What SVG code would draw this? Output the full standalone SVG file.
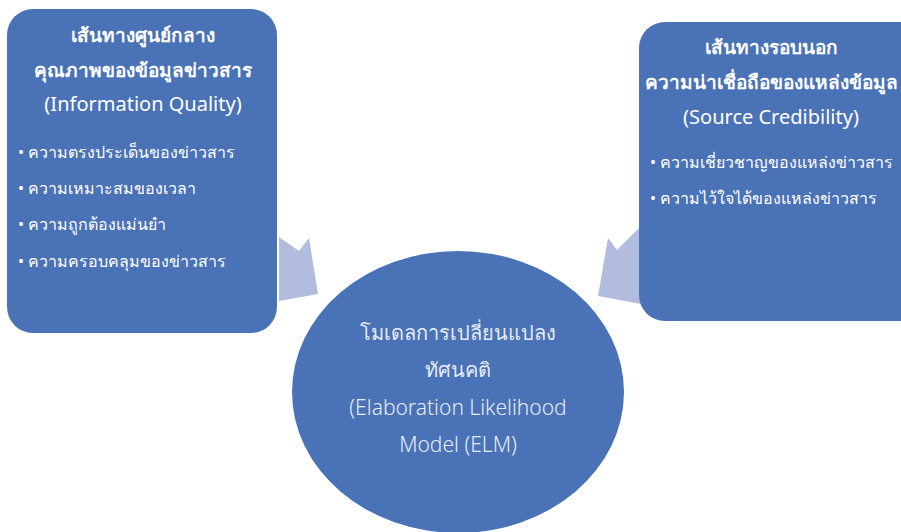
<svg xmlns="http://www.w3.org/2000/svg" width="901" height="532" viewBox="0 0 901 532">
<style>
.box{fill:#4a72b6}
.arrow{fill:#b2bcdf}
.t{font-family:"Noto Sans","Liberation Sans",sans-serif;fill:#ffffff;text-anchor:middle}
.h{font-size:19px;font-weight:bold}
.e{font-size:20px}
.b{font-family:"Noto Sans","Liberation Sans",sans-serif;fill:#ffffff;font-size:16px}
.c{font-family:"Noto Sans","Liberation Sans",sans-serif;fill:#e6ebf5;font-size:20px;text-anchor:middle;font-weight:300}
.ce{font-size:21px}
</style>
<rect width="901" height="532" fill="#ffffff"/>
<g id="connectors">
<polygon class="arrow" points="279,237 299,251 309,238 318,294 279,301"/>
<polygon class="arrow" points="608,238 617,250 641,226 641,304 598,296"/>
</g>
<g id="central-route">
<rect class="box" x="7" y="9" width="270" height="324" rx="26" ry="26"/>
<text class="t h" x="143" y="42">เส้นทางศูนย์กลาง</text>
<text class="t h" x="143" y="77">คุณภาพของข้อมูลข่าวสาร</text>
<text class="t e" x="143" y="111">(Information Quality)</text>
<text class="b" x="18" y="158">• ความตรงประเด็นของข่าวสาร</text>
<text class="b" x="18" y="194">• ความเหมาะสมของเวลา</text>
<text class="b" x="18" y="230">• ความถูกต้องแม่นยำ</text>
<text class="b" x="18" y="267">• ความครอบคลุมของข่าวสาร</text>
</g>
<g id="peripheral-route">
<rect class="box" x="639" y="22" width="290" height="299" rx="26" ry="26"/>
<text class="t h" x="771" y="54">เส้นทางรอบนอก</text>
<text class="t h" x="771" y="89">ความน่าเชื่อถือของแหล่งข้อมูล</text>
<text class="t e" x="771" y="124">(Source Credibility)</text>
<text class="b" x="650" y="168">• ความเชี่ยวชาญของแหล่งข่าวสาร</text>
<text class="b" x="650" y="204">• ความไว้ใจได้ของแหล่งข่าวสาร</text>
</g>
<g id="elm">
<ellipse class="box" cx="458" cy="392" rx="166" ry="141"/>
<text class="c" x="458" y="340">โมเดลการเปลี่ยนแปลง</text>
<text class="c" x="458" y="377">ทัศนคติ</text>
<text class="c ce" x="458" y="415">(Elaboration Likelihood</text>
<text class="c ce" x="458" y="452">Model (ELM)</text>
</g>
</svg>
